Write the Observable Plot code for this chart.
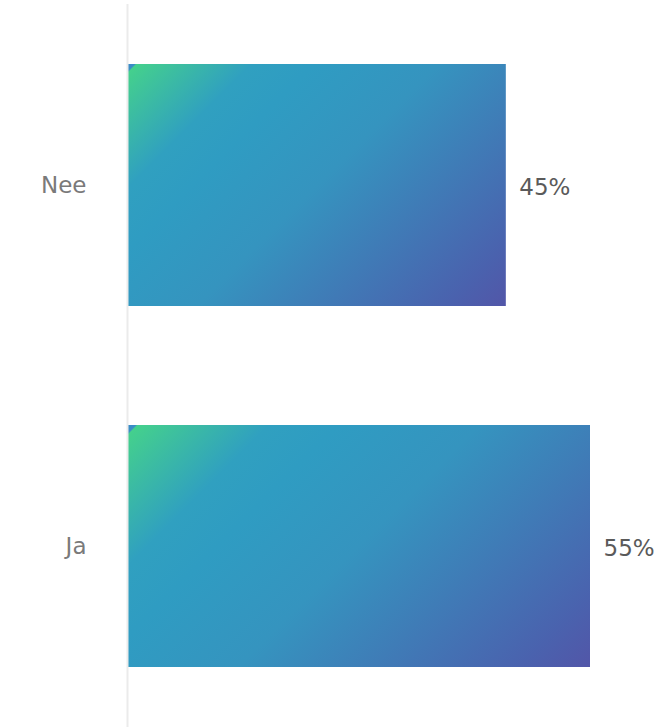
<!DOCTYPE html>
<html>
<head>
<meta charset="utf-8">
<script src="https://cdn.jsdelivr.net/npm/d3@7"></script>
<script src="https://cdn.jsdelivr.net/npm/@observablehq/plot@0.6"></script>
<style>
  html, body { margin: 0; padding: 0; background: #fff; }
  #chart svg { display: block; }
</style>
</head>
<body>
<div id="chart"></div>
<script>
const categories = ["Nee", "Ja"];
const values = [45, 55];
const valueLabels = ["45%", "55%"];

const data = categories.map((c, i) => ({category: c, value: values[i], label: valueLabels[i]}));

const gradientStops = [
  ["0", "#3a8cc6"], ["0.011", "#3a8cc6"], ["0.014", "#44d08d"],
  ["0.2", "#30a0c0"], ["0.3", "#2f9cc2"], ["0.5", "#3594bf"],
  ["0.9", "#4a62ae"], ["1", "#5256a8"]
];

const plot = Plot.plot({
  width: 662,
  height: 727,
  marginLeft: 127,
  marginRight: 72,
  marginTop: 4,
  marginBottom: 0,
  style: {fontFamily: "'DejaVu Sans', sans-serif", background: "#fff"},
  x: {domain: [0, 55], axis: null},
  y: {domain: categories, paddingInner: 0.33, paddingOuter: 0.165, axis: null},
  marks: [
    Plot.barX(data, {y: "category", x: "value", fill: "#2f9cc2", insetLeft: 1}),
    Plot.ruleX([0], {stroke: "#ebebeb", strokeWidth: 2}),
    Plot.text(data, {y: "category", frameAnchor: "left", text: "category", textAnchor: "end", dx: -41, fill: "#7a7a7a", fontSize: 23}),
    Plot.text(data, {y: "category", x: "value", text: "label", textAnchor: "start", dx: 13, dy: 2, fill: "#5a5a5a", fontSize: 23})
  ]
});

// Per-bar 45° gradient, placed from each rendered bar's own geometry
const ns = "http://www.w3.org/2000/svg";
const defs = document.createElementNS(ns, "defs");
plot.insertBefore(defs, plot.firstChild);
plot.querySelectorAll('g[aria-label="bar"] rect').forEach((r, i) => {
  const x = +r.getAttribute("x"), y = +r.getAttribute("y");
  const w = +r.getAttribute("width"), h = +r.getAttribute("height");
  const lg = document.createElementNS(ns, "linearGradient");
  const id = "barGrad" + i;
  lg.setAttribute("id", id);
  lg.setAttribute("gradientUnits", "userSpaceOnUse");
  lg.setAttribute("x1", x); lg.setAttribute("y1", y);
  lg.setAttribute("x2", x + (w + h) / 2); lg.setAttribute("y2", y + (w + h) / 2);
  gradientStops.forEach(([o, c]) => {
    const s = document.createElementNS(ns, "stop");
    s.setAttribute("offset", o);
    s.setAttribute("stop-color", c);
    lg.appendChild(s);
  });
  defs.appendChild(lg);
  r.setAttribute("fill", `url(#${id})`);
});

document.getElementById("chart").appendChild(plot);
</script>
</body>
</html>
